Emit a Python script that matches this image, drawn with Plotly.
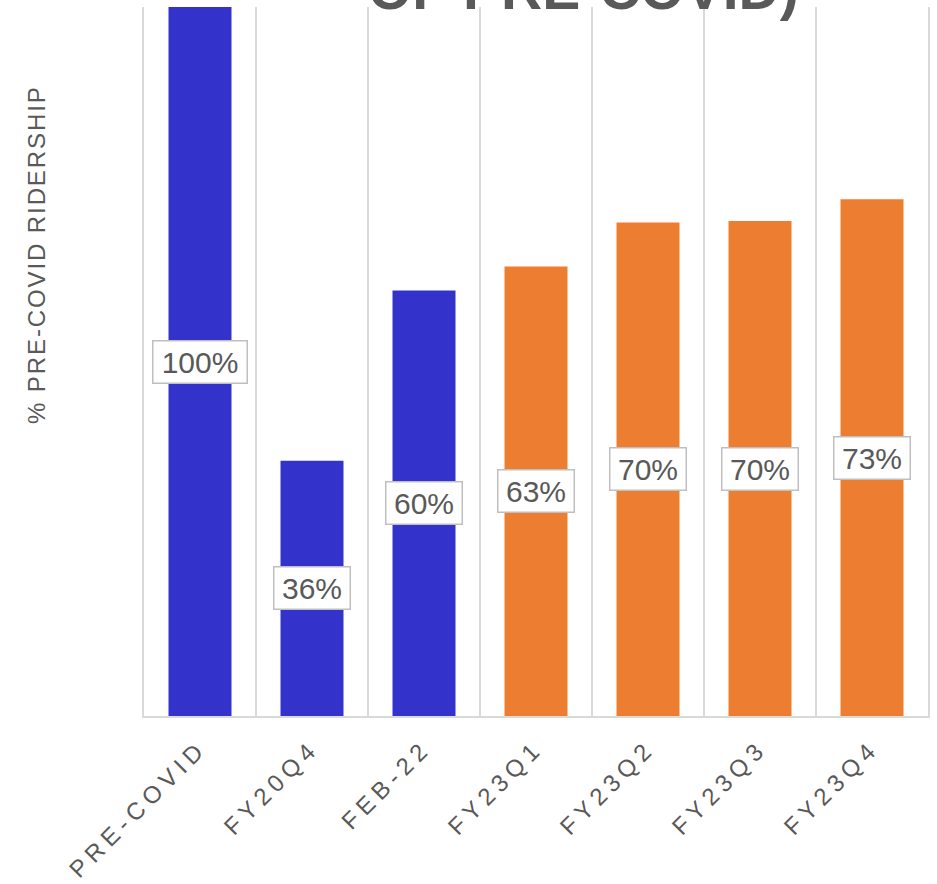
import plotly.graph_objects as go

categories = ["PRE-COVID", "FY20Q4", "FEB-22", "FY23Q1", "FY23Q2", "FY23Q3", "FY23Q4"]
values = [1.00, 0.36, 0.60, 0.634, 0.696, 0.698, 0.729]
bar_colors = ["#3333CC", "#3333CC", "#3333CC", "#ED7D31", "#ED7D31", "#ED7D31", "#ED7D31"]
title_text = "OF PRE-COVID)"
y_title = "% PRE-COVID RIDERSHIP"

FONT = "Liberation Sans, Arial, sans-serif"
GRAY = "#595959"
GRID = "#d9d9d9"

fig = go.Figure()
fig.add_trace(go.Bar(
    x=categories, y=values,
    marker=dict(color=bar_colors, line=dict(width=0)),
    hoverinfo="skip",
))

labels = [f"{v:.0%}" for v in values]
for c, v, t in zip(categories, values, labels):
    fig.add_annotation(
        x=c, y=v / 2, xref="x", yref="y", text=t, showarrow=False,
        font=dict(family=FONT, size=30, color=GRAY),
        bgcolor="white", bordercolor="#bfbfbf", borderwidth=1.5, borderpad=4,
        width=18 * len(t) + 13, align="center",
    )

fig.add_annotation(
    x=0.561, y=1.025, xref="paper", yref="paper", xanchor="center", yanchor="middle",
    text=title_text, showarrow=False,
    font=dict(family=FONT, size=57, color=GRAY, weight="bold"),
)

fig.add_annotation(
    x=-0.1378, y=0.6516, xref="paper", yref="paper", xanchor="center", yanchor="middle",
    text=f'<span style="letter-spacing:1.9px">{y_title}</span>', textangle=-90,
    showarrow=False, font=dict(family=FONT, size=24, color=GRAY),
)

fig.update_layout(
    width=937, height=884,
    margin=dict(l=144, r=9, t=7, b=168, autoexpand=False),
    paper_bgcolor="white", plot_bgcolor="white",
    bargap=0.4375, showlegend=False,
    font=dict(family=FONT, color=GRAY),
)
fig.update_xaxes(
    type="category", tickson="boundaries", showgrid=True, gridcolor=GRID, gridwidth=1.5,
    showline=True, linecolor=GRID, linewidth=1.5, ticks="", tickangle=-45,
    tickmode="array", tickvals=categories,
    ticktext=[f'<span style="letter-spacing:5.5px">{c}</span>' for c in categories],
    tickfont=dict(family=FONT, size=24, color=GRAY), ticklabelstandoff=7,
    range=[-0.5, 6.5], automargin=False,
)
fig.update_yaxes(
    range=[0, 1.0], showgrid=False, zeroline=False, showticklabels=False, ticks="",
    showline=True, linecolor=GRID, linewidth=1.5, mirror=True,
    automargin=False,
)

fig.write_html("out.html")
